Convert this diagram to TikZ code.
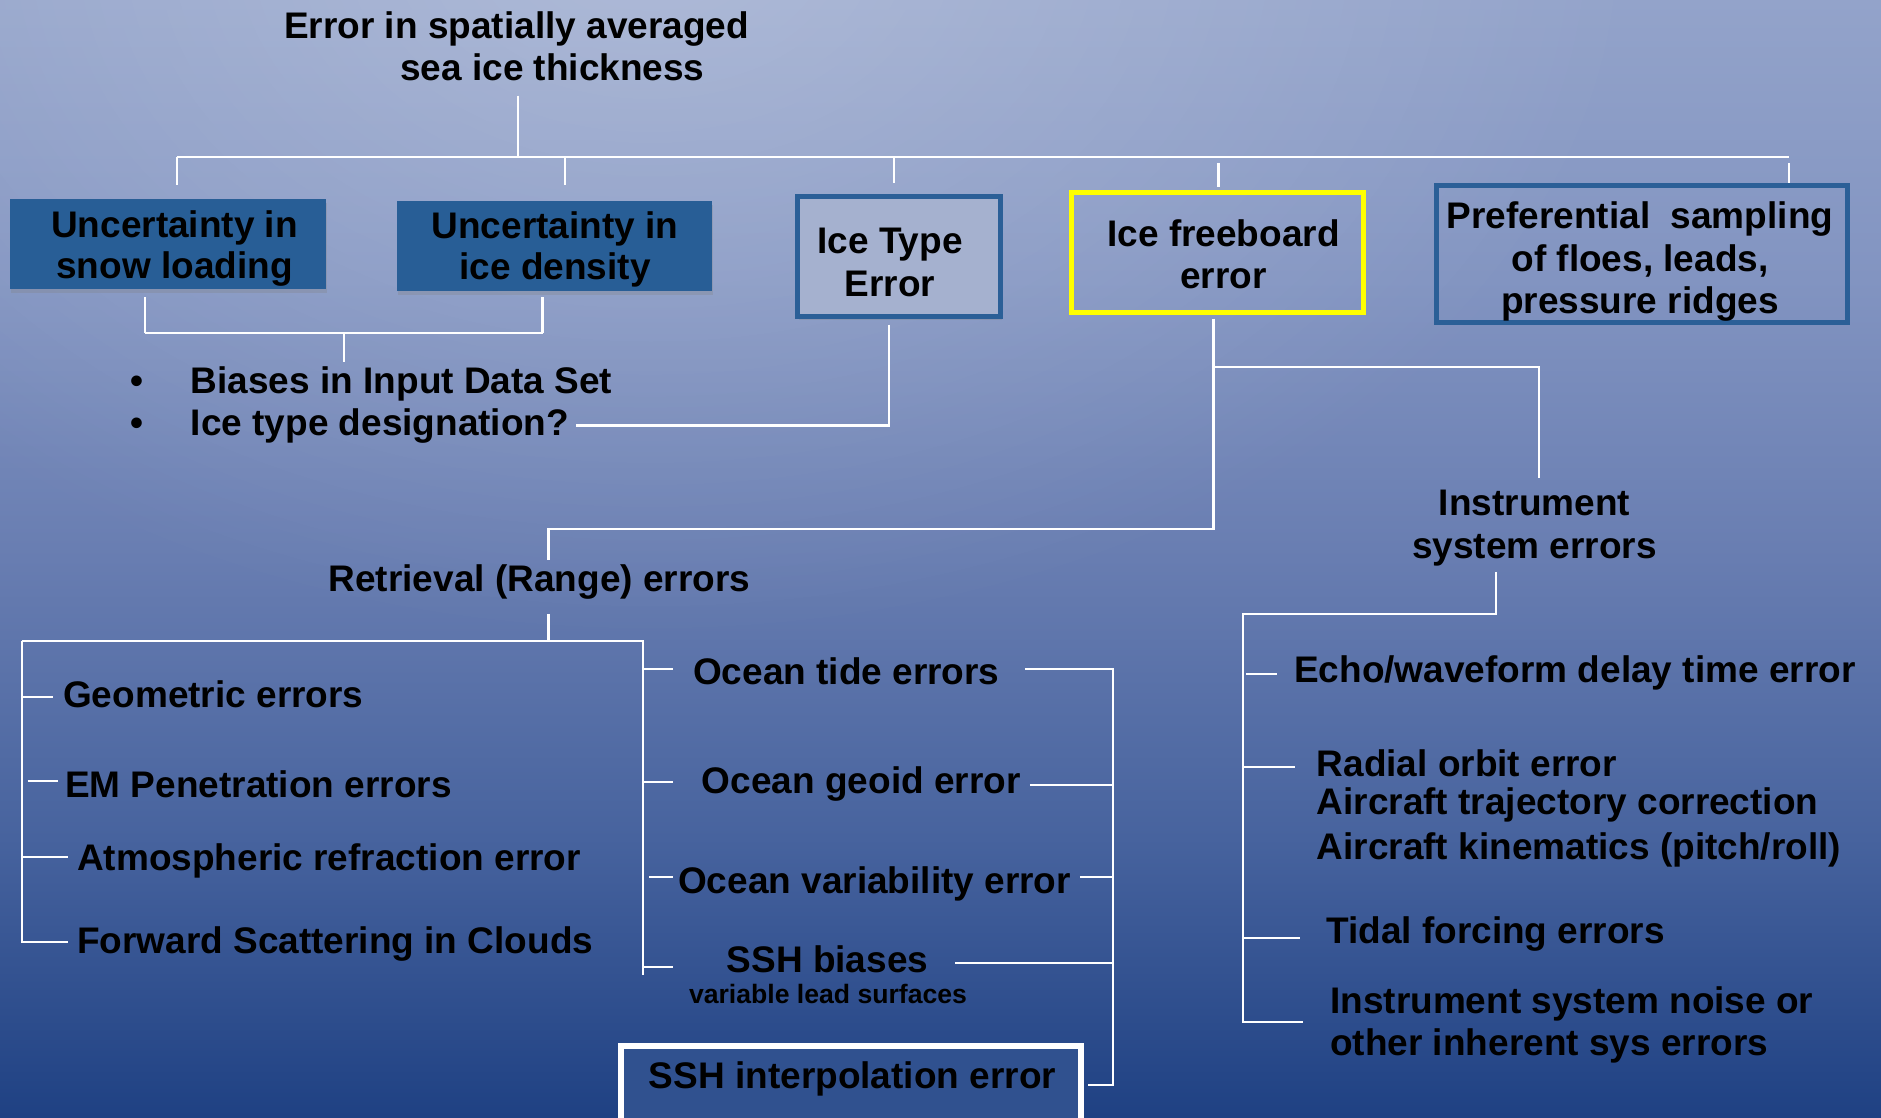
\documentclass[tikz,border=0pt]{standalone}
\usepackage{fontspec}
\setmainfont{Liberation Sans}
\usetikzlibrary{shadows,fadings}
\definecolor{bgT}{HTML}{93A3CA}
\definecolor{bgA}{HTML}{8294C1}
\definecolor{bgM}{HTML}{687DB1}
\definecolor{bgC}{HTML}{47639E}
\definecolor{bgB}{HTML}{1F4183}
\definecolor{boxblue}{HTML}{285E96}
\definecolor{frameblue}{HTML}{2B5F97}
\definecolor{icefill}{HTML}{A5B1CF}
\definecolor{sshfill}{HTML}{30518F}
\definecolor{hiyellow}{HTML}{FFFF00}
\pgfdeclareverticalshading{bgsh}{100bp}{color(0bp)=(bgB); color(25bp)=(bgB); color(37.5bp)=(bgC); color(50bp)=(bgM); color(62.5bp)=(bgA); color(75bp)=(bgT); color(100bp)=(bgT)}
\tikzfading[name=softfade, inner color=transparent!0, outer color=transparent!100]
\begin{document}
\begin{tikzpicture}[x=1pt,y=-1pt,
  txt/.style={inner sep=0pt, text=black, font=\bfseries\fontsize{37pt}{42pt}\selectfont},
  ls/.style={font=\bfseries\fontsize{37pt}{#1}\selectfont},
  conn/.style={draw=white, line width=2.2pt},
  shad/.style={drop shadow={opacity=0.28, shadow xshift=1pt, shadow yshift=-3.5pt}},
  ubox/.style={fill=boxblue, inner sep=0pt, minimum width=315.5pt, minimum height=90pt, shad},
  framebox/.style={draw=frameblue, line width=5pt, inner sep=0pt}
]
\useasboundingbox (0,0) rectangle (1881,1117);
\clip (0,0) rectangle (1881,1117);
% background
\shade[shading=bgsh] (0,0) rectangle (1881,1117);
\fill[white, fill opacity=0.25, path fading=softfade] (650,-60) ellipse [x radius=1000, y radius=700];

% title (base anchor = last line)
\node[txt, align=left, anchor=base west] (title) at (284,80)
  {Error in spatially averaged\\\hspace*{116pt}sea ice thickness};

% boxes (frames)
\node[ubox] (snow) at (167.75,244) {};
\node[ubox] (dens) at (554.5,246) {};
\node[framebox, fill=icefill, minimum width=203pt, minimum height=120pt, shad] (itype) at (899,256.5) {};
\node[draw=hiyellow, line width=5pt, inner sep=0pt, minimum width=291.5pt, minimum height=120pt] (frb) at (1217.25,252.5) {};
\node[framebox, minimum width=411pt, minimum height=137pt] (pref) at (1642,254) {};
\node[draw=white, line width=6pt, fill=sshfill, inner sep=0pt, minimum width=460.5pt, minimum height=90pt] (sshi) at (850.75,1090.7) {};

% box texts
\node[txt, ls=41pt, align=center, anchor=base] (snowT) at (174.5,278.3) {Uncertainty in\\snow loading};
\node[txt, ls=41pt, align=center, anchor=base] (densT) at (555,279.3) {Uncertainty in\\ice density};
\node[txt, ls=43pt, align=center, anchor=base] (itypeT) at (890,296.3) {Ice Type\\Error};
\node[txt, ls=42pt, align=center, anchor=base] (frbT) at (1223.5,288) {Ice freeboard\\error};
\node[txt, ls=42.8pt, align=center, anchor=base] (prefT) at (1640,313.9) {Preferential\ \ sampling\\of floes, leads,\\pressure ridges};
\node[txt, anchor=base] (sshiT) at (852.5,1088.7) {SSH interpolation error};

% bullets
\node[txt, anchor=base west] (b1) at (130.5,393.25) {\makebox[60.1pt][l]{•}Biases in Input Data Set};
\node[txt, anchor=base west] (b2) at (130.5,435) {\makebox[60.1pt][l]{•}Ice type designation?};

% branch labels
\node[txt, anchor=base west] (retr) at (328.5,591.7) {Retrieval (Range) errors};
\node[txt, ls=43pt, align=center, anchor=base] (inst) at (1534.5,558) {Instrument\\system errors};

% retrieval items
\node[txt, anchor=base west] (geo) at (63,707) {Geometric errors};
\node[txt, anchor=base west] (em) at (65,797) {EM Penetration errors};
\node[txt, anchor=base west] (atm) at (77,870.7) {Atmospheric refraction error};
\node[txt, anchor=base west] (fwd) at (77,953) {Forward Scattering in Clouds};
\node[txt, anchor=base west] (otide) at (693,684) {Ocean tide errors};
\node[txt, anchor=base west] (ogeo) at (701.7,793) {Ocean geoid error};
\node[txt, anchor=base west] (ovar) at (678,893) {Ocean variability error};
\node[txt, anchor=base] (sshb) at (827.5,972.7) {SSH biases};
\node[inner sep=0pt, text=black, font=\bfseries\fontsize{26.6pt}{30pt}\selectfont, anchor=base] (vls) at (828,1003) {variable lead surfaces};

% instrument items
\node[txt, anchor=base west] (echo) at (1294,682.7) {Echo/waveform delay time error};
\node[txt, ls=38pt, align=left, anchor=base west] (radial) at (1316.5,859.7)
  {Radial orbit error\\Aircraft trajectory correction\\[7pt]Aircraft kinematics (pitch/roll)};
\node[txt, anchor=base west] (tidal) at (1326,943) {Tidal forcing errors};
\node[txt, ls=42pt, align=left, anchor=base west] (noise) at (1330,1055)
  {Instrument system noise or\\other inherent sys errors};

% ---- connectors ----
% top bus
\coordinate (bus) at (518,157);
\coordinate (dA) at (177,157);
\coordinate (dB) at (565,157);
\coordinate (dC) at (894,157);
\coordinate (dD) at (1218.5,157);
\coordinate (dE) at (1789,157);
\draw[conn, shorten <=15pt] (title.south -| bus) -- (bus);
\draw[conn] (dA) -- (dE);
\draw[conn, shorten >=14pt] (dA) -- (dA |- snow.north);
\draw[conn, shorten >=16pt] (dB) -- (dB |- dens.north);
\draw[conn, shorten >=11.5pt] (dC) -- (dC |- itype.north);
\draw[conn, shorten <=6pt, shorten >=3.5pt] (dD) -- (dD |- frb.north);
\draw[conn, shorten <=6pt] (dE) -- (dE |- pref.north);

% uncertainty bracket to bullets
\coordinate (uA) at (145,333);
\coordinate (uB) at (542.5,333);
\coordinate (uC) at (344,333);
\draw[conn, shorten >=8pt] (uA) -- (uA |- snow.south);
\draw[conn, shorten >=6pt] (uB) -- (uB |- dens.south);
\draw[conn] (uA) -- (uB);
\draw[conn, shorten >=4pt] (uC) -- (uC |- b1.north);

% ice type to designation
\draw[conn, shorten <=5.5pt, shorten >=7pt] ([xshift=-10pt]itype.south) |- (b2.east);

% freeboard branches
\coordinate (fj) at (1213.5,367);
\coordinate (rj) at (548.5,529);
\draw[conn, shorten <=3.5pt, shorten >=4.7pt] ([xshift=-3.75pt]frb.south) -- (fj) |- (rj) -- (rj |- retr.north);
\draw[conn, shorten >=11pt] (fj) -| ([xshift=4.5pt]inst.north);

% retrieval bracket
\coordinate (rb) at (548.5,641);
\coordinate (lbL) at (21.6,641);
\coordinate (lbR) at (642.7,641);
\coordinate (lbRend) at (642.7,975);
\draw[conn, shorten <=14pt] (retr.south -| rb) -- (rb);
\draw[conn] (lbL) -- (lbR) -- (lbRend);
\coordinate (g1) at ([xshift=-10pt,yshift=10pt]geo.base west);
\coordinate (m1) at ([xshift=-7.5pt,yshift=16pt]em.base west);
\coordinate (a1) at ([xshift=-9pt,yshift=13.7pt]atm.base west);
\coordinate (f1) at ([xshift=-9pt,yshift=11pt]fwd.base west);
\draw[conn] (lbL) |- (f1);
\draw[conn] (g1 -| lbL) -- (g1);
\draw[conn, shorten <=6pt] (m1 -| lbL) -- (m1);
\draw[conn] (a1 -| lbL) -- (a1);
\coordinate (o1) at ([xshift=-20pt,yshift=15pt]otide.base west);
\coordinate (o2) at ([xshift=-28.7pt,yshift=11pt]ogeo.base west);
\coordinate (o3) at ([xshift=-5pt,yshift=16pt]ovar.base west);
\coordinate (o4) at ([xshift=-54pt,yshift=5.7pt]sshb.base west);
\draw[conn] (o1 -| lbR) -- (o1);
\draw[conn] (o2 -| lbR) -- (o2);
\draw[conn, shorten <=6.3pt] (o3 -| lbR) -- (o3);
\draw[conn] (o4 -| lbR) -- (o4);

% right-hand bracket of ocean items
\coordinate (rxc) at (1112.7,669);
\coordinate (r1) at ([xshift=25pt,yshift=15pt]otide.base east);
\coordinate (r2) at ([xshift=9pt,yshift=8pt]ogeo.base east);
\coordinate (r3) at ([xshift=8.7pt,yshift=16pt]ovar.base east);
\coordinate (r4) at ([xshift=27pt,yshift=9.7pt]sshb.base east);
\coordinate (r5) at ([xshift=4pt,yshift=6pt]sshi.east);
\draw[conn] (r1) -- (r1 -| rxc) |- (r5);
\draw[conn] (r2) -- (r2 -| rxc);
\draw[conn] (r3) -- (r3 -| rxc);
\draw[conn] (r4) -- (r4 -| rxc);

% instrument bracket
\coordinate (ij) at (1243,614);
\coordinate (n1) at ([xshift=-27pt,yshift=33pt]noise.base west);
\coordinate (e1) at ([xshift=-17pt,yshift=8.7pt]echo.base west);
\coordinate (ra1) at ([xshift=-21.5pt,yshift=92.7pt]radial.base west);
\coordinate (t1) at ([xshift=-26pt,yshift=5pt]tidal.base west);
\draw[conn, shorten <=6pt] ([xshift=-38.5pt]inst.south) |- (ij) |- (n1);
\draw[conn, shorten <=3pt] (e1 -| ij) -- (e1);
\draw[conn] (ra1 -| ij) -- (ra1);
\draw[conn] (t1 -| ij) -- (t1);
\end{tikzpicture}
\end{document}
